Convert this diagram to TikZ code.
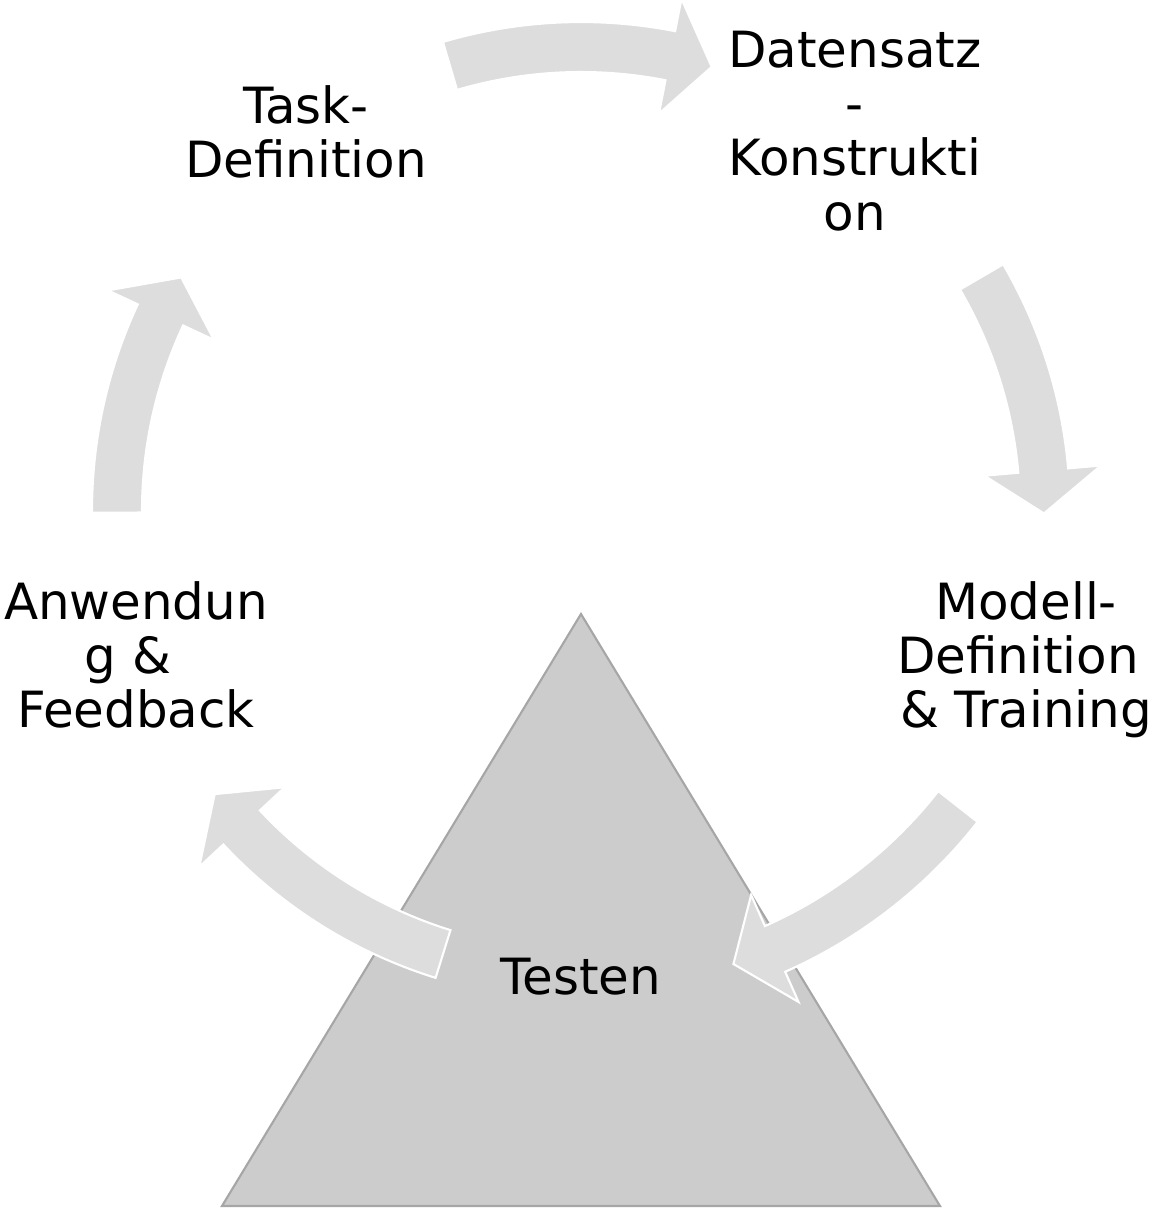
\documentclass[tikz,border=0pt]{standalone}
\usepackage{fontspec}
\setmainfont{DejaVu Sans}

\definecolor{arrowgray}{HTML}{DDDDDD}
\definecolor{trifill}{HTML}{CCCCCC}
\definecolor{triline}{HTML}{A6A6A6}

\tikzset{
    stagelabel/.style={align=center, inner sep=0pt, font=\fontsize{14.2}{15.4}\selectfont},
    cyclearrow/.style={fill=arrowgray, draw=white, line width=0.6pt, line join=miter},
}

\begin{document}
\begin{tikzpicture}
    % Radii of the cycle (arrow body and arrow heads)
    \def\R{4.63}
    \def\Rin{4.39}
    \def\Rout{4.89}
    \def\Hin{4.05}
    \def\Hout{5.22}
    \def\HeadLen{5.3}

    \useasboundingbox (-5.81,-7.00) rectangle (5.72,5.11);

    % Triangle
    \coordinate (apex) at (0,-1.03);
    \coordinate (left) at (-3.59,-6.95);
    \coordinate (right) at (3.59,-6.95);
    \draw[fill=trifill, draw=triline, line width=0.6pt] (apex) -- (right) -- (left) -- cycle;

    % Curved arrows (tail angle / tip angle / radial offset)
    \foreach \tail/\tip/\dr in {106.4/73.6/0, 30.3/-0.3/0, -38.1/-71.4/0.15, -107.3/-142.3/0, -179.8/-210.3/0} {
        \pgfmathsetmacro{\base}{\tip+\HeadLen}
        \pgfmathsetmacro{\ri}{\Rin+\dr}
        \pgfmathsetmacro{\ro}{\Rout+\dr}
        \pgfmathsetmacro{\hi}{\Hin+\dr}
        \pgfmathsetmacro{\ho}{\Hout+\dr}
        \pgfmathsetmacro{\rm}{\R+\dr}
        \draw[cyclearrow] (\tail:\ro) arc[start angle=\tail, end angle=\base, radius=\ro]
            -- (\base:\ho) -- (\tip:\rm) -- (\base:\hi) -- (\base:\ri)
            arc[start angle=\base, end angle=\tail, radius=\ri] -- cycle;
    }

    % Stages
    \node[stagelabel] (task) at (-2.75,3.79) {Task-\\Definition};
    \node[stagelabel] (dataset) at (2.74,3.80) {Datensatz\\-\\Konstrukti\\on};
    \node[stagelabel] (model) at (4.45,-1.49) {Modell-\\Definition \mbox{}\\\& Training};
    \node[stagelabel] (testing) at (0,-4.66) {Testen};
    \node[stagelabel] (application) at (-4.45,-1.44) {Anwendun\\g \& \mbox{}\\Feedback};
\end{tikzpicture}
\end{document}
